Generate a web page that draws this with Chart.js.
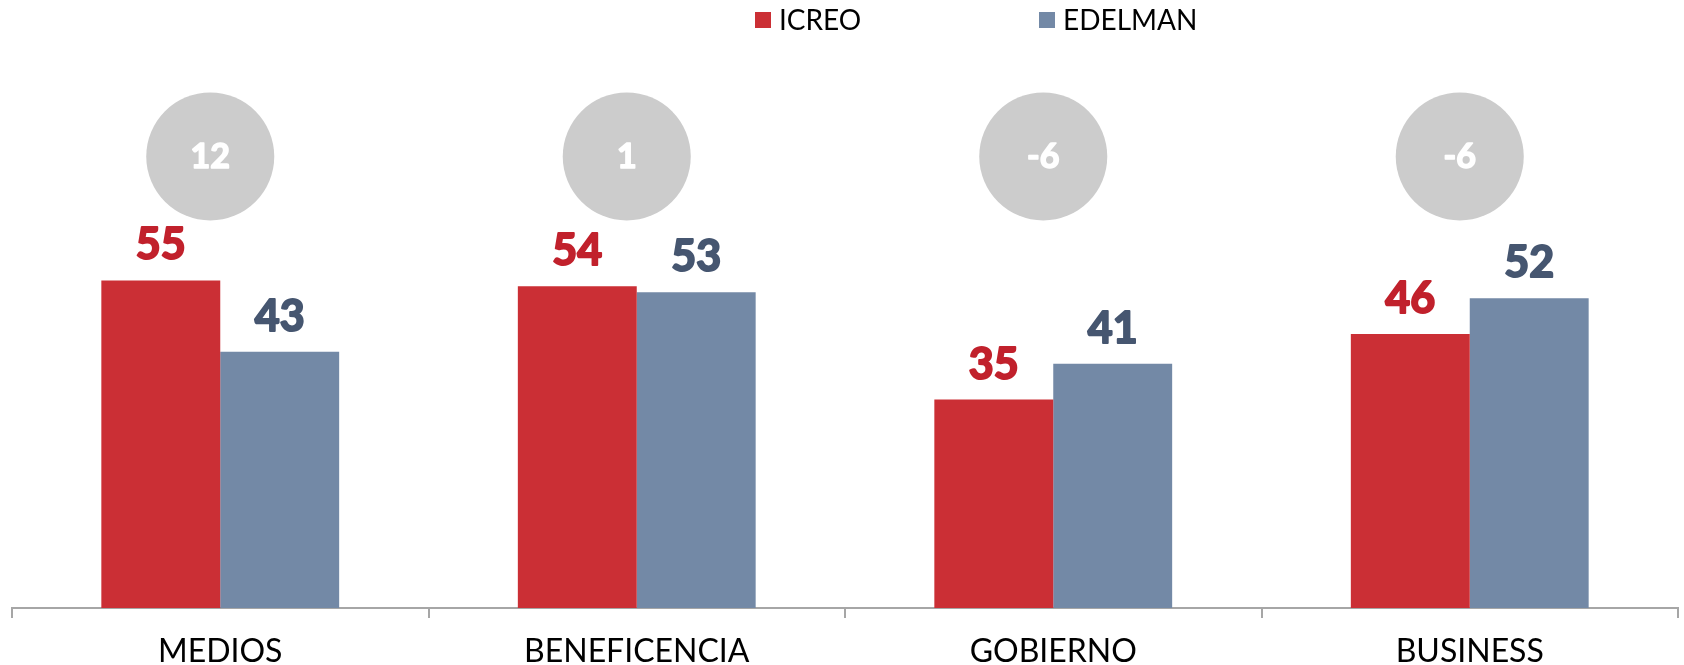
<!DOCTYPE html>
<html>
<head>
<meta charset="utf-8">
<script src="https://cdn.jsdelivr.net/npm/chart.js@4/dist/chart.umd.min.js"></script>
<style>
  html, body { margin: 0; padding: 0; background: #fff; }
  #wrap { width: 1684px; height: 665px; position: relative; }
</style>
</head>
<body>
<div id="wrap"><canvas id="c" width="1684" height="665"></canvas></div>
<script>
const categories = ['MEDIOS', 'BENEFICENCIA', 'GOBIERNO', 'BUSINESS'];
const icreo = [55, 54, 35, 46];
const edelman = [43, 53, 41, 52];
const differences = [12, 1, -6, -6];
const seriesNames = ['ICREO', 'EDELMAN'];
const bubbleLevel = 75.8;

const barColors = ['#CB2F35', '#7389A6'];
const labelColors = ['#C1212C', '#465670'];
const FONT = 'Lato, "Open Sans", sans-serif';

function boldText(ctx, txt, x, y, color, width) {
  ctx.fillStyle = color;
  ctx.strokeStyle = color;
  ctx.lineWidth = width;
  ctx.lineJoin = 'round';
  ctx.strokeText(txt, x, y);
  ctx.fillText(txt, x, y);
}

const overlayPlugin = {
  id: 'overlay',
  afterDatasetsDraw(chart) {
    const ctx = chart.ctx;
    const xs = chart.scales.x, ys = chart.scales.y;
    ctx.save();
    // value labels
    chart.data.datasets.forEach((ds, di) => {
      const meta = chart.getDatasetMeta(di);
      meta.data.forEach((bar, i) => {
        ctx.font = 'bold 43px ' + FONT;
        ctx.textAlign = 'center';
        ctx.textBaseline = 'alphabetic';
        boldText(ctx, String(ds.data[i]), bar.x, bar.y - 21, labelColors[di], 2.0);
      });
    });
    // difference bubbles
    differences.forEach((d, i) => {
      const cx = xs.getPixelForValue(i) - 10;
      const cy = ys.getPixelForValue(bubbleLevel);
      ctx.beginPath();
      ctx.arc(cx, cy, 64, 0, Math.PI * 2);
      ctx.fillStyle = '#CCCCCC';
      ctx.fill();
      ctx.font = 'bold 34px ' + FONT;
      ctx.textAlign = 'center';
      ctx.textBaseline = 'middle';
      boldText(ctx, String(d), cx, cy + 1, '#FFFFFF', 1.6);
    });
    // legend
    const legendX = [755, 1039];
    ctx.font = '28px ' + FONT;
    ctx.textAlign = 'left';
    ctx.textBaseline = 'middle';
    seriesNames.forEach((n, i) => {
      ctx.fillStyle = barColors[i];
      ctx.fillRect(legendX[i], 12, 16, 16);
      ctx.fillStyle = '#000000';
      ctx.fillText(n, legendX[i] + 24, 21);
    });
    ctx.restore();
  }
};

new Chart(document.getElementById('c'), {
  type: 'bar',
  data: {
    labels: categories,
    datasets: [
      { label: seriesNames[0], data: icreo, backgroundColor: barColors[0] },
      { label: seriesNames[1], data: edelman, backgroundColor: barColors[1] }
    ]
  },
  options: {
    responsive: false,
    animation: false,
    devicePixelRatio: 1,
    layout: { padding: { left: 12, right: 6, top: 60, bottom: 0 } },
    datasets: { bar: { barPercentage: 1.0, categoryPercentage: 0.571 } },
    plugins: { legend: { display: false }, tooltip: { enabled: false } },
    scales: {
      y: { display: false, min: 0, max: 92 },
      x: {
        offset: true,
        afterFit(scale) { scale.height = 57; },
        border: { display: true, color: '#A6A6A6', width: 2 },
        grid: { display: true, drawOnChartArea: false, drawTicks: true, tickLength: 10, color: '#A6A6A6', lineWidth: 2, offset: true },
        ticks: { color: '#000000', font: { family: FONT, size: 32 }, padding: 14 }
      }
    }
  },
  plugins: [overlayPlugin]
});
</script>
</body>
</html>
